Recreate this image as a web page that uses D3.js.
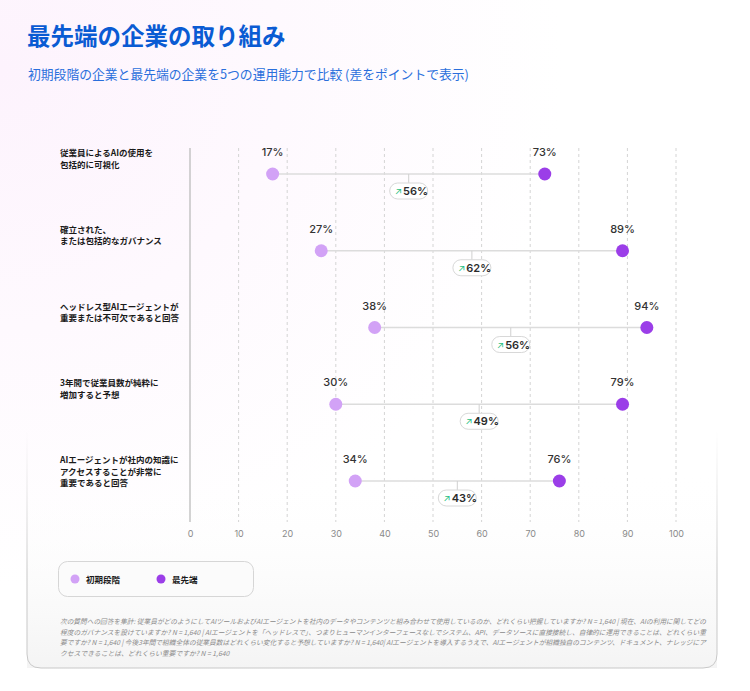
<!DOCTYPE html>
<html>
<head>
  <meta charset="utf-8">
  <title>最先端の企業の取り組み</title>
  <script src="https://cdn.jsdelivr.net/npm/d3@7"></script>
  <style>
    body { margin: 0; background: #fff; }
    svg { display: block; font-family: "Noto Sans CJK JP", "Noto Sans", sans-serif; }
  </style>
</head>
<body>
  <script>
    // Data
    const categories = [
      ["従業員によるAIの使用を", "包括的に可視化"],
      ["確立された、", "または包括的なガバナンス"],
      ["ヘッドレス型AIエージェントが", "重要または不可欠であると回答"],
      ["3年間で従業員数が純粋に", "増加すると予想"],
      ["AIエージェントが社内の知識に", "アクセスすることが非常に", "重要であると回答"]
    ];
    const early = [17, 27, 38, 30, 34];
    const leading = [73, 89, 94, 89, 76]; // 4行目の点は図では約89の位置
    const earlyLabels = ["17%", "27%", "38%", "30%", "34%"];
    const leadingLabels = ["73%", "89%", "94%", "79%", "76%"];
    const gapLabels = ["56%", "62%", "56%", "49%", "43%"];
    const xTicks = [0, 10, 20, 30, 40, 50, 60, 70, 80, 90, 100];
    const seriesNames = ["初期段階", "最先端"];

    const footnote = [
      "次の質問への回答を集計: 従業員がどのようにしてAIツールおよびAIエージェントを社内のデータやコンテンツと組み合わせて使用しているのか、どれくらい把握していますか? N = 1,640 | 現在、AIの利用に関してどの",
      "程度のガバナンスを設けていますか? N = 1,640 | AIエージェントを「ヘッドレスで」、つまりヒューマンインターフェースなしでシステム、API、データソースに直接接続し、自律的に運用できることは、どれくらい重",
      "要ですか? N = 1,640 | 今後3年間で組織全体の従業員数はどれくらい変化すると予想していますか? N = 1,640| AIエージェントを導入するうえで、AIエージェントが組織独自のコンテンツ、ドキュメント、ナレッジにア",
      "クセスできることは、どれくらい重要ですか? N = 1,640"
    ];

    const w = 750;
    const h = 691;
    const colEarly = "#d2a2f6";
    const colLead = "#9b3ee8";

    const svg = d3.select("body").append("svg")
      .attr("width", w)
      .attr("height", h);

    const defs = svg.append("defs");
    const bg = defs.append("radialGradient").attr("id", "bg")
      .attr("cx", "0%").attr("cy", "10%").attr("r", "75%");
    bg.append("stop").attr("offset", "0%").attr("stop-color", "#fdf3fd");
    bg.append("stop").attr("offset", "100%").attr("stop-color", "#ffffff");
    const bot = defs.append("linearGradient").attr("id", "bot")
      .attr("x1", 0).attr("y1", 0).attr("x2", 0).attr("y2", 1);
    bot.append("stop").attr("offset", "0%").attr("stop-color", "#ffffff").attr("stop-opacity", 0);
    bot.append("stop").attr("offset", "100%").attr("stop-color", "#f4f4f4").attr("stop-opacity", 1);
    const edge = defs.append("linearGradient").attr("id", "edge")
      .attr("x1", 0).attr("y1", 0).attr("x2", 0).attr("y2", 1);
    edge.append("stop").attr("offset", "0%").attr("stop-color", "#c8c8c8").attr("stop-opacity", 0);
    edge.append("stop").attr("offset", "60%").attr("stop-color", "#c8c8c8").attr("stop-opacity", 1);

    svg.append("rect").attr("width", w).attr("height", h).attr("fill", "url(#bg)");
    svg.append("rect").attr("x", 27).attr("y", 470).attr("width", 690).attr("height", 198)
      .attr("fill", "url(#bot)");

    // kortets nederste kant
    svg.append("path")
      .attr("d", "M27,430 L27,654 Q27,668 41,668 L703,668 Q717,668 717,654 L717,430")
      .attr("fill", "none")
      .attr("stroke", "url(#edge)")
      .attr("stroke-width", 1);

    // Titel
    svg.append("text")
      .attr("x", 27).attr("y", 45)
      .attr("font-size", 23.5).attr("font-weight", 700)
      .attr("fill", "#0a5bd3")
      .text("最先端の企業の取り組み");
    svg.append("text")
      .attr("x", 28).attr("y", 79)
      .attr("font-size", 12.8)
      .attr("fill", "#2a6fdc")
      .text("初期段階の企業と最先端の企業を5つの運用能力で比較 (差をポイントで表示)");

    // Scales
    const x = d3.scaleLinear().domain([0, 100]).range([190, 676]);
    const y = d3.scalePoint().domain(d3.range(categories.length)).range([174, 481]);

    // Grid
    const grid = svg.append("g");
    grid.selectAll("line")
      .data(xTicks.slice(1))
      .enter()
      .append("line")
      .attr("x1", d => x(d)).attr("x2", d => x(d))
      .attr("y1", 148).attr("y2", 522)
      .attr("stroke", "#d4d4d4")
      .attr("stroke-dasharray", "3,3");
    svg.append("line")
      .attr("x1", x(0)).attr("x2", x(0))
      .attr("y1", 148).attr("y2", 522)
      .attr("stroke", "#c4c4c4").attr("stroke-width", 1.5);

    const xAxis = svg.append("g")
      .attr("transform", "translate(0,527)")
      .call(d3.axisBottom(x).tickValues(xTicks).tickSize(0).tickPadding(4));
    xAxis.select(".domain").remove();
    xAxis.selectAll("text")
      .attr("font-size", 9)
      .attr("fill", "#8a8a8a")
      .attr("font-family", "Inter, 'Noto Sans', sans-serif");

    // Kategori labels
    const cat = svg.append("g").selectAll("text")
      .data(categories)
      .enter()
      .append("text")
      .attr("x", 60)
      .attr("y", (d, i) => y(i) - 18)
      .attr("font-size", 8.5)
      .attr("font-weight", 700)
      .attr("fill", "#1a1a1a");
    cat.selectAll("tspan")
      .data(d => d)
      .enter()
      .append("tspan")
      .attr("x", 60)
      .attr("dy", (d, i) => i === 0 ? 0 : 11.5)
      .text(d => d);

    // Rows
    const rows = svg.append("g").selectAll("g")
      .data(categories.map((c, i) => i))
      .enter()
      .append("g");

    rows.append("line")
      .attr("x1", i => x(early[i])).attr("x2", i => x(leading[i]))
      .attr("y1", i => y(i)).attr("y2", i => y(i))
      .attr("stroke", "#dcdcdc").attr("stroke-width", 1.5);

    const mid = i => x((early[i] + leading[i]) / 2);
    rows.append("line")
      .attr("x1", mid).attr("x2", mid)
      .attr("y1", i => y(i)).attr("y2", i => y(i) + 10)
      .attr("stroke", "#d0d0d0").attr("stroke-width", 1);

    rows.append("rect")
      .attr("x", i => mid(i) - 19)
      .attr("y", i => y(i) + 9)
      .attr("width", 38).attr("height", 16).attr("rx", 8)
      .attr("fill", "#fff")
      .attr("stroke", "#d8d8d8");

    const badge = rows.append("text")
      .attr("x", i => mid(i) - 14)
      .attr("y", i => y(i) + 21)
      .attr("font-family", "Inter, 'Noto Sans', sans-serif");
    badge.append("tspan")
      .attr("font-size", 9.5)
      .attr("fill", "#1fbf7f")
      .text("↗");
    badge.append("tspan")
      .attr("dx", 1)
      .attr("font-size", 11).attr("font-weight", 600)
      .attr("fill", "#2b2b2b")
      .text(i => gapLabels[i]);

    rows.append("circle")
      .attr("cx", i => x(early[i])).attr("cy", i => y(i))
      .attr("r", 6.5).attr("fill", colEarly);
    rows.append("circle")
      .attr("cx", i => x(leading[i])).attr("cy", i => y(i))
      .attr("r", 6.5).attr("fill", colLead);

    rows.append("text")
      .attr("x", i => x(early[i])).attr("y", i => y(i) - 18)
      .attr("text-anchor", "middle")
      .attr("font-size", 11).attr("font-weight", 500).attr("fill", "#333")
      .attr("font-family", "Inter, 'Noto Sans', sans-serif")
      .text(i => earlyLabels[i]);
    rows.append("text")
      .attr("x", i => x(leading[i])).attr("y", i => y(i) - 18)
      .attr("text-anchor", "middle")
      .attr("font-size", 11).attr("font-weight", 500).attr("fill", "#333")
      .attr("font-family", "Inter, 'Noto Sans', sans-serif")
      .text(i => leadingLabels[i]);

    // Legend
    svg.append("rect")
      .attr("x", 58.5).attr("y", 561.5)
      .attr("width", 195).attr("height", 35).attr("rx", 9)
      .attr("fill", "#fbfbfb").attr("stroke", "#d6d6d6");
    const leg = svg.append("g").selectAll("g")
      .data(seriesNames)
      .enter()
      .append("g")
      .attr("transform", (d, i) => "translate(" + (75 + i * 86) + ",579)");
    leg.append("circle").attr("r", 4.5)
      .attr("fill", (d, i) => i === 0 ? colEarly : colLead);
    leg.append("text")
      .attr("x", 11).attr("y", 3.5)
      .attr("font-size", 8.5).attr("font-weight", 700)
      .attr("fill", "#1a1a1a")
      .text(d => d);

    // Fodnote
    svg.append("g").selectAll("text")
      .data(footnote)
      .enter()
      .append("text")
      .attr("x", 60)
      .attr("y", (d, i) => 624 + i * 10.5)
      .attr("font-size", 6.8)
      .attr("font-style", "italic")
      .attr("fill", "#8a8a8a")
      .attr("textLength", (d, i) => i < 3 ? 646 : null)
      .attr("lengthAdjust", "spacingAndGlyphs")
      .text(d => d);
  </script>
</body>
</html>
